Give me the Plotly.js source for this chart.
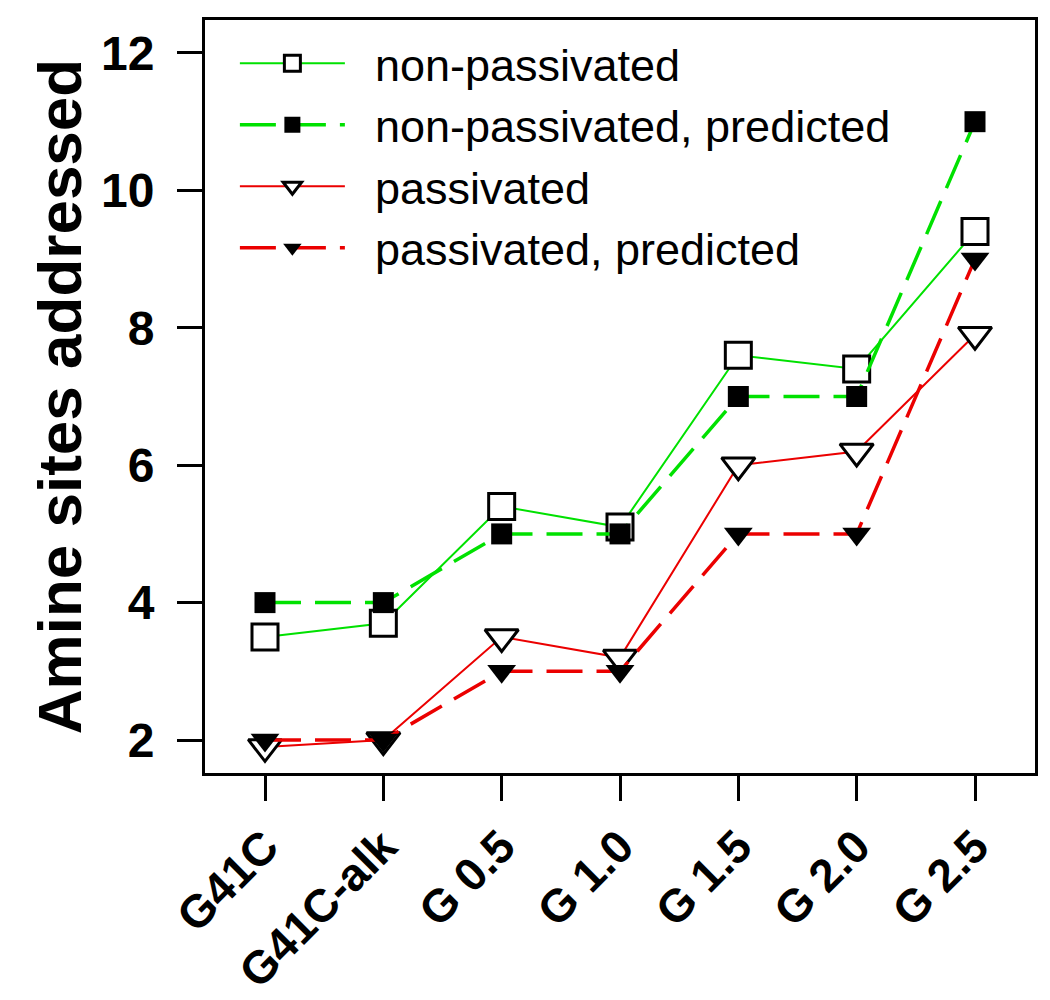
<!DOCTYPE html>
<html>
<head>
<meta charset="utf-8">
<script src="https://cdn.plot.ly/plotly-3.0.1.min.js"></script>
<style>html,body{margin:0;padding:0;background:#fff;}#chart{width:1050px;height:1000px;}</style>
</head>
<body>
<div id="chart"></div>
<script>
const categories = ["G41C", "G41C-alk", "G 0.5", "G 1.0", "G 1.5", "G 2.0", "G 2.5"];
const nonPassivated = [3.5, 3.7, 5.4, 5.1, 7.6, 7.4, 9.4];
const nonPassivatedPredicted = [4, 4, 5, 5, 7, 7, 11];
const passivated = [1.9, 2.0, 3.5, 3.2, 6.0, 6.2, 7.9];
const passivatedPredicted = [2, 2, 3, 3, 5, 5, 9];
const yTicks = [2, 4, 6, 8, 10, 12];
const seriesNames = ["non-passivated", "non-passivated, predicted", "passivated", "passivated, predicted"];

const GREEN = "rgb(0,225,0)";
const RED = "rgb(235,0,0)";
const DASH = "36px,14px";
const PAD = "\u00a0\u00a0";
const FONT = "Liberation Sans, Arial, sans-serif";

const traces = [
  {
    x: categories, y: nonPassivated, name: PAD + seriesNames[0], type: "scatter", mode: "lines+markers",
    line: {color: GREEN, width: 2},
    marker: {symbol: "square", size: 26, color: "#ffffff", line: {color: "#000", width: 3}}
  },
  {
    x: categories, y: nonPassivatedPredicted, name: PAD + seriesNames[1], type: "scatter", mode: "lines+markers",
    line: {color: GREEN, width: 3.5, dash: DASH},
    marker: {symbol: "square", size: 21, color: "#000", line: {width: 0}}
  },
  {
    x: categories, y: passivated, name: PAD + seriesNames[2], type: "scatter", mode: "lines+markers",
    line: {color: RED, width: 2},
    marker: {symbol: "triangle-down", size: 29, color: "#ffffff", line: {color: "#000", width: 3}}
  },
  {
    x: categories, y: passivatedPredicted, name: PAD + seriesNames[3], type: "scatter", mode: "lines+markers",
    line: {color: RED, width: 3.5, dash: DASH},
    marker: {symbol: "triangle-down", size: 25, color: "#000", line: {width: 0}}
  }
];

const layout = {
  width: 1050, height: 1000,
  margin: {l: 205, r: 15, t: 20, b: 227},
  paper_bgcolor: "#fff", plot_bgcolor: "#fff",
  font: {family: FONT, color: "#000"},
  showlegend: true,
  legend: {
    x: 0.036, y: 0.99, xanchor: "left", yanchor: "top",
    bgcolor: "rgba(0,0,0,0)", borderwidth: 0,
    font: {size: 45, family: FONT, color: "#000"},
    itemwidth: 105, tracegroupgap: 0
  },
  xaxis: {
    type: "category", range: [-0.507, 6.507],
    showline: true, mirror: true, linecolor: "#000", linewidth: 3,
    ticks: "outside", ticklen: 25, tickwidth: 3, tickcolor: "#000",
    tickangle: -45, showgrid: false, zeroline: false,
    tickfont: {size: 46, family: FONT, weight: "bold", color: "#000"}
  },
  yaxis: {
    range: [1.52, 12.48], tickvals: yTicks, ticktext: yTicks.map(String),
    showline: true, mirror: true, linecolor: "#000", linewidth: 3,
    ticks: "outside", ticklen: 25, tickwidth: 3, tickcolor: "#000",
    showgrid: false, zeroline: false, ticklabelstandoff: 13,
    tickfont: {size: 48, family: FONT, weight: "bold", color: "#000"},
    title: {text: "Amine sites addressed", standoff: 0,
      font: {size: 62, family: FONT, weight: "bold", color: "#000"}}
  }
};

Plotly.newPlot("chart", traces, layout, {displayModeBar: false, staticPlot: true});
</script>
</body>
</html>
